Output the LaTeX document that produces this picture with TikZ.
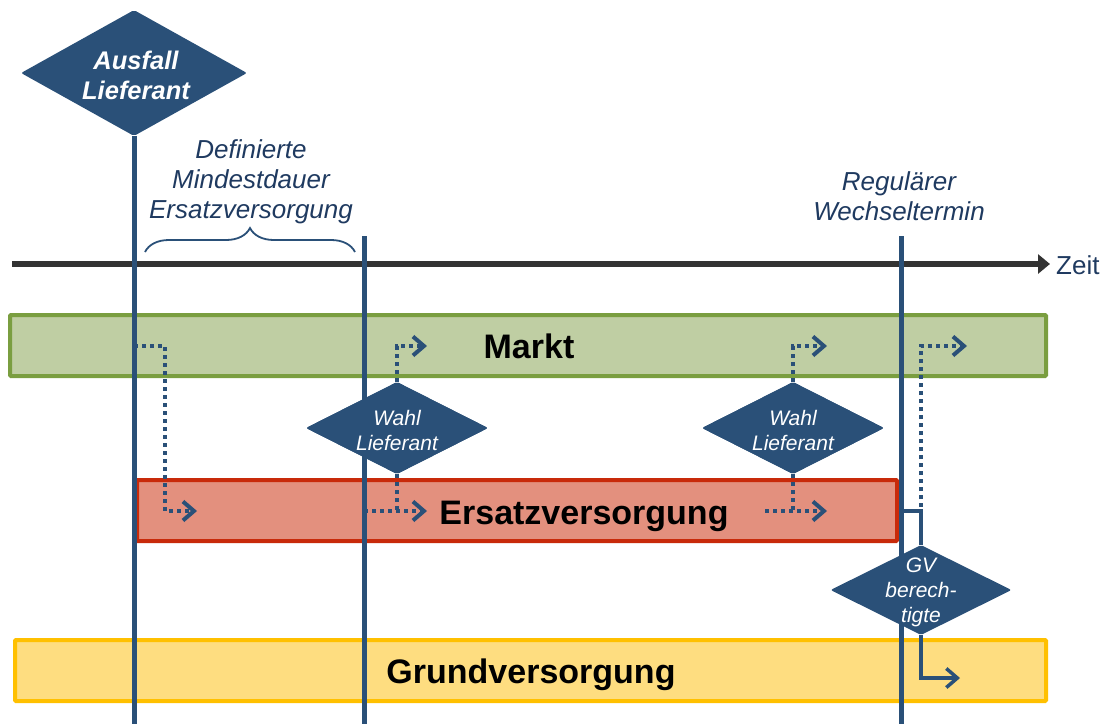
\documentclass[tikz,border=0pt]{standalone}
\usepackage{fontspec}
\setmainfont{Liberation Sans}
\usetikzlibrary{shapes.geometric,arrows.meta,decorations.pathreplacing}
\definecolor{dblue}{HTML}{2A5078}
\definecolor{tblue}{HTML}{1F3A60}
\definecolor{mfill}{HTML}{BFCEA3}
\definecolor{mdraw}{HTML}{7A9E40}
\definecolor{efill}{HTML}{E3907E}
\definecolor{edraw}{HTML}{C82A0A}
\definecolor{gfill}{HTML}{FEDD80}
\definecolor{gdraw}{HTML}{FFC000}
\definecolor{axisgray}{HTML}{333333}
\begin{document}
\begin{tikzpicture}[x=1pt,y=-1pt,
 bar/.style={line width=4pt, rounded corners=1pt, inner sep=0pt},
 bartext/.style={font=\fontsize{34}{40}\selectfont\bfseries, text=black, anchor=base},
 dia/.style={diamond, fill=dblue, inner sep=0pt, rounded corners=2pt},
 diatext/.style={text=white, align=center, font=\fontsize{21}{25}\selectfont\itshape},
 vline/.style={draw=dblue, line width=5pt},
 dotline/.style={draw=dblue, line width=4pt, dash pattern=on 4pt off 4pt},
 dotarrow/.style={dotline, -{Straight Barb[length=11pt,width=19pt]}},
 solidline/.style={draw=dblue, line width=3.5pt},
 solidarrow/.style={solidline, -{Straight Barb[length=11pt,width=19pt]}},
 note/.style={text=tblue, align=center, font=\fontsize{26}{30}\selectfont\itshape},
]
\useasboundingbox (0,0) rectangle (1103,724);

% bars
\node[bar, draw=mdraw, fill=mfill, minimum width=1036pt, minimum height=61pt] (markt) at (528,345.5) {};
\node[bar, draw=edraw, fill=efill, minimum width=760pt, minimum height=61pt] (ersatz) at (517,510.5) {};
\node[bar, draw=gdraw, fill=gfill, minimum width=1031pt, minimum height=61pt] (grund) at (530.5,670.5) {};
\node[bartext] (markttext) at (529,358) {Markt};
\node[bartext] (ersatztext) at (584,524) {Ersatzversorgung};
\node[bartext] (grundtext) at (531,683) {Grundversorgung};

% time axis
\coordinate (axisL) at (12,264);
\coordinate (axisR) at (1050,264);
\draw[axisgray, line width=6pt, -{Triangle[length=12pt,width=19pt]}] (axisL) -- (axisR);
\node[text=tblue, font=\fontsize{26}{30}\selectfont, anchor=west, inner sep=0pt] (zeit) at (1056,265) {Zeit};

% diamonds
\node[dia, minimum width=226pt, minimum height=126pt] (ausfall) at (134,73) {};
\node[dia, minimum width=182pt, minimum height=92pt] (wahl1) at (397,428) {};
\node[dia, minimum width=182pt, minimum height=92pt] (wahl2) at (793,428) {};

% vertical lines
\coordinate (v1b) at (134,724);
\coordinate (v2t) at (364,236);
\coordinate (v2b) at (364,724);
\coordinate (v3t) at (901,236);
\coordinate (v3b) at (901,724);
\draw[vline] (ausfall.south) -- (v1b);
\draw[vline] (v2t) -- (v2b);
\draw[vline] (v3t) -- (v3b);

\node[dia, minimum width=181pt, minimum height=90pt] (gv) at (921,590) {};
\node[dia, minimum width=182pt, minimum height=92pt] at (wahl1) {};
\node[dia, minimum width=182pt, minimum height=92pt] at (wahl2) {};

\node[diatext, font=\fontsize{25.5}{30}\selectfont\bfseries\itshape] (ausfalltext) at (136,75) {Ausfall\\Lieferant};
\node[diatext] (wahl1text) at (397,430) {Wahl\\Lieferant};
\node[diatext] (wahl2text) at (793,430) {Wahl\\Lieferant};
\node[diatext] (gvtext) at (921,592) {GV\\berech-\\tigte};

% notes
\node[note] (definiert) at (251,182) {Definierte\\Mindestdauer\\Ersatzversorgung};
\node[note] (regulaer) at (899,196) {Regulärer\\Wechseltermin};
\coordinate (braceL) at (145,252);
\coordinate (braceR) at (355,252);
\draw[dblue, line width=1.8pt, decorate, decoration={brace, amplitude=24pt}] (braceL) -- (braceR);

% dotted arrows
\coordinate (a1s) at (134,346);
\coordinate (a1m) at (165,430);
\coordinate (a1t) at (197,511);
\draw[dotarrow] (a1s) -| (a1m) |- (a1t);

\coordinate (m1t) at (427,346);
\draw[dotarrow] (wahl1.north) |- (m1t);
\coordinate (v2e) at (364,511);
\coordinate (e1t) at (427,511);
\draw[dotarrow] (v2e) -- (e1t);
\draw[dotline] (wahl1.south) -- (wahl1.south |- e1t);

\coordinate (m2t) at (827,346);
\draw[dotarrow] (wahl2.north) |- (m2t);
\coordinate (e2s) at (765,511);
\coordinate (e2t) at (827,511);
\draw[dotarrow] (e2s) -- (e2t);
\draw[dotline] (wahl2.south) -- (wahl2.south |- e2t);

\coordinate (d6s) at (921,507);
\coordinate (m3t) at (967,346);
\draw[dotarrow] (d6s) |- (m3t);

% solid connectors
\coordinate (v3e) at (901,511);
\draw[solidline] (v3e) -| (gv.north);
\coordinate (g1t) at (960,678);
\draw[solidarrow] (gv.south) |- (g1t);
\end{tikzpicture}
\end{document}
